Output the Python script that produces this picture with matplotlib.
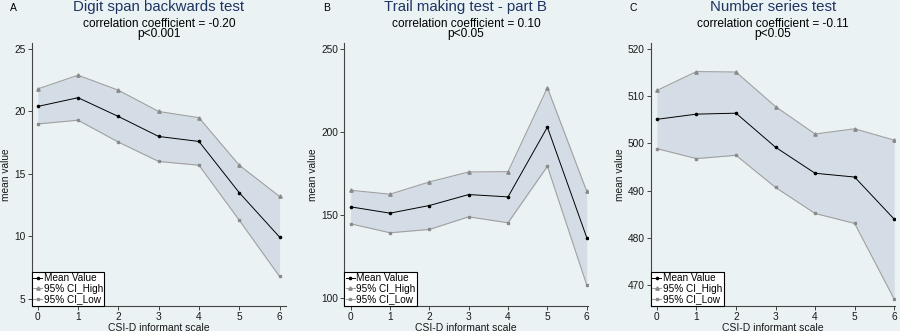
#!/usr/bin/env python3
"""Mean value with 95% CI bands across the CSI-D informant scale, three tests."""

import matplotlib
matplotlib.use("Agg")
import matplotlib.pyplot as plt

plt.rcParams['font.family'] = ['Liberation Sans', 'DejaVu Sans']

# CSI-D informant scale
scale = [0, 1, 2, 3, 4, 5, 6]

# A - Digit span backwards test
digit_mean = [20.4, 21.1, 19.6, 18.0, 17.6, 13.5, 9.95]
digit_high = [21.8, 22.9, 21.7, 20.0, 19.5, 15.7, 13.2]
digit_low = [19.0, 19.3, 17.55, 16.0, 15.7, 11.3, 6.8]

# B - Trail making test - part B
trail_mean = [155.0, 151.2, 155.8, 162.4, 161.0, 203.0, 136.5]
trail_high = [165.0, 162.6, 170.0, 176.0, 176.2, 226.7, 164.4]
trail_low = [144.8, 139.4, 141.4, 149.0, 145.4, 179.4, 108.0]

# C - Number series test
number_mean = [505.1, 506.2, 506.4, 499.2, 493.7, 492.9, 484.0]
number_high = [511.2, 515.2, 515.1, 507.8, 502.0, 503.1, 500.7]
number_low = [498.9, 496.8, 497.5, 490.7, 485.2, 483.1, 467.1]

panel_letters = ['A', 'B', 'C']
titles = ['Digit span backwards test', 'Trail making test - part B', 'Number series test']
subtitles = ['correlation coefficient = -0.20\np<0.001',
             'correlation coefficient = 0.10\np<0.05',
             'correlation coefficient = -0.11\np<0.05']
yticks = [[5, 10, 15, 20, 25], [100, 150, 200, 250], [470, 480, 490, 500, 510, 520]]

BG = '#eaf2f3'
FILL = '#d4dde6'
CI_COLOR = '#a0a0a0'
CI_MARK = '#8a8a8a'
AXIS = '#444444'
TITLE = '#1e3462'
TEXT = '#1a1a1a'

fig = plt.figure(figsize=(9, 3.31), dpi=100, facecolor=BG)

# axes boxes in figure fractions (left, bottom, width, height)
boxes = [(0.0352, 0.0764, 0.2826, 0.7946),
         (0.3826, 0.0764, 0.2702, 0.7946),
         (0.7233, 0.0764, 0.2711, 0.7946)]
ylims = [(4.46, 25.5), (95.5, 253.8), (465.7, 521.3)]
xlims = [(-0.15, 6.16), (-0.16, 6.02), (-0.15, 6.02)]

data = [(digit_mean, digit_high, digit_low),
        (trail_mean, trail_high, trail_low),
        (number_mean, number_high, number_low)]

for i, (mean, high, low) in enumerate(data):
    ax = fig.add_axes(boxes[i])
    ax.set_facecolor(BG)

    ax.fill_between(scale, low, high, color=FILL, linewidth=0, zorder=1)
    ax.plot(scale, mean, color='black', lw=0.7, marker='o', ms=1.6,
            label='Mean Value', zorder=4)
    ax.plot(scale, high, color=CI_COLOR, lw=0.8, marker='^', ms=2.4,
            mfc=CI_MARK, mec=CI_MARK, label='95% CI_High', zorder=3)
    ax.plot(scale, low, color=CI_COLOR, lw=0.8, marker='s', ms=1.9,
            mfc=CI_MARK, mec=CI_MARK, label='95% CI_Low', zorder=3)

    ax.set_xlim(*xlims[i])
    ax.set_ylim(*ylims[i])
    ax.set_xticks(scale)
    ax.set_yticks(yticks[i])

    for side in ['top', 'right']:
        ax.spines[side].set_visible(False)
    for side in ['left', 'bottom']:
        ax.spines[side].set_color(AXIS)
        ax.spines[side].set_linewidth(0.8)
    ax.tick_params(axis='both', direction='out', length=3, width=0.7,
                   color=AXIS, labelsize=7.3, pad=1.5, labelcolor=TEXT)

    ax.set_xlabel('CSI-D informant scale', fontsize=7.5, labelpad=0.5, color=TEXT)
    ax.set_ylabel('mean value', fontsize=7.3, labelpad=2, color=TEXT)

    leg = ax.legend(loc='lower left', fontsize=7.2, frameon=True, fancybox=False,
                    borderaxespad=0, handlelength=0.9, handletextpad=0.15,
                    borderpad=0.15, labelspacing=0.05, framealpha=1)
    leg.get_frame().set_edgecolor('black')
    leg.get_frame().set_linewidth(0.8)

    # titles above each panel
    cx = boxes[i][0] + boxes[i][2] / 2
    line1, line2 = subtitles[i].split('\n')
    fig.text(cx, 0.967, titles[i], ha='center', va='baseline',
             fontsize=10.8, color=TITLE)
    fig.text(cx, 0.919, line1, ha='center', va='baseline',
             fontsize=8.6, color='black')
    fig.text(cx, 0.887, line2, ha='center', va='baseline',
             fontsize=8.6, color='black')
    fig.text(boxes[i][0] - 0.024, 0.968, panel_letters[i], ha='left',
             va='baseline', fontsize=7.5, color='black')

fig.savefig('out.png', dpi=100, facecolor=BG)
